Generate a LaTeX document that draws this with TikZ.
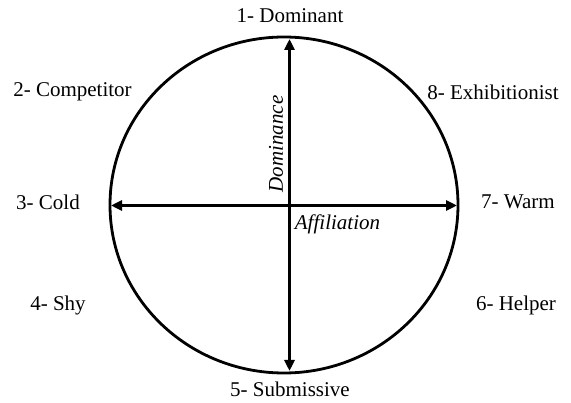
\documentclass[tikz,border=0pt]{standalone}
\usepackage{fontspec}
\setmainfont{Liberation Serif}
\usetikzlibrary{arrows.meta}
\begin{document}
\begin{tikzpicture}[x=1pt,y=-1pt,
  lbl/.style={font=\fontsize{21}{24}\selectfont, inner sep=0pt},
  axis/.style={line width=3pt, -{Triangle[length=11pt,width=10pt]}}]
\useasboundingbox (0,0) rectangle (571,403);
\draw[line width=2.8pt] (284,205) ellipse [x radius=174, y radius=168];
\coordinate (c) at (289.5,205.5);
\coordinate (top) at (289.5,39);
\coordinate (bot) at (289.5,371);
\coordinate (lft) at (111,205.5);
\coordinate (rgt) at (457,205.5);
\draw[axis] (c) -- (top);
\draw[axis] (c) -- (bot);
\draw[axis] (c) -- (lft);
\draw[axis] (c) -- (rgt);
\node[lbl] (n1) at (290,16) {1- Dominant};
\node[lbl] (n5) at (290,389) {5- Submissive};
\node[lbl] (n2) at (72.5,92) {2- Competitor};
\node[lbl] (n8) at (493,92) {8- Exhibitionist};
\node[lbl] (n3) at (48,202) {3- Cold};
\node[lbl] (n7) at (518,202) {7- Warm};
\node[lbl] (n4) at (58,305) {4- Shy};
\node[lbl] (n6) at (516,305) {6- Helper};
\node[lbl, font=\fontsize{21}{24}\selectfont\itshape, rotate=90] (dom) at (276,144) {Dominance};
\node[lbl, font=\fontsize{21}{24}\selectfont\itshape] (aff) at (337.5,224) {Affiliation};
\end{tikzpicture}
\end{document}
